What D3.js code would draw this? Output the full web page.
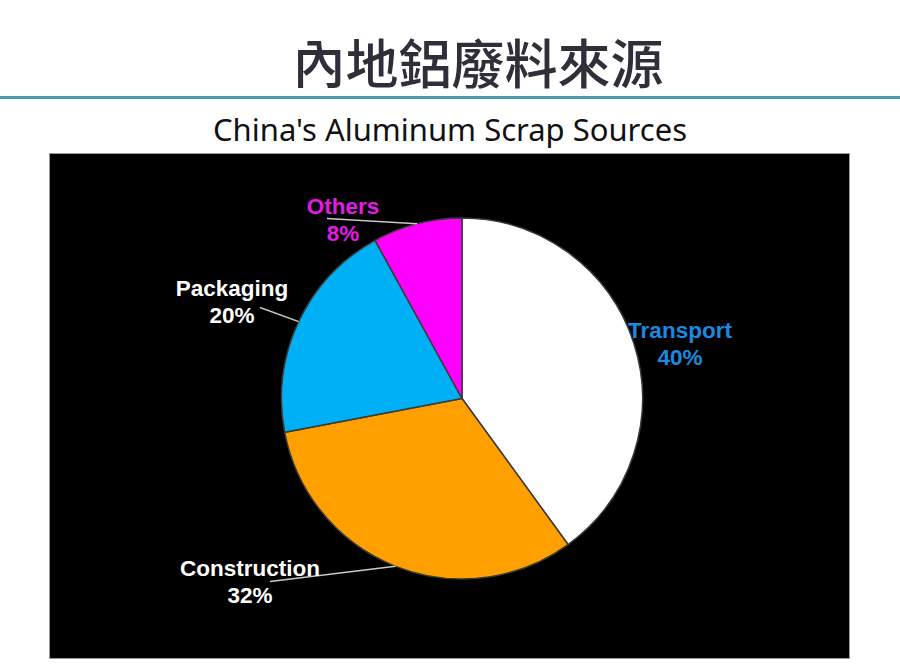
<!DOCTYPE html>
<html>
<head>
<meta charset="utf-8">
<script src="https://cdn.jsdelivr.net/npm/d3@7"></script>
<style>
  body { margin: 0; background: #fff; }
  svg { display: block; }
</style>
</head>
<body>
<svg width="900" height="665"></svg>
<script>
// data
var categories = ["Transport", "Construction", "Packaging", "Others"];
var shares = [40, 32, 20, 8];
var sliceColours = ["#ffffff", "#ff9f00", "#00b0f5", "#ff00ff"];
var labelColours = ["#1a8ae0", "#ffffff", "#ffffff", "#e21ce2"];

// label layout: first baseline relative to pie centre, leader end relative to label
var labelSpots = [[218, -61], [-212, 177], [-230, -103], [-119, -185]];
var leaderEnds = [null, [20, 6], [28, 12], [-16, 5]];

var svg = d3.select("svg"),
    width = +svg.attr("width"),
    height = +svg.attr("height");

// header
svg.append("text")
    .attr("x", 478)
    .attr("y", 84)
    .attr("text-anchor", "middle")
    .attr("font-family", "'Noto Sans CJK TC', 'Noto Sans CJK SC', sans-serif")
    .attr("font-size", 53)
    .attr("font-weight", 500)
    .attr("fill", "#2f2f3a")
    .text("內地鋁廢料來源");

svg.append("rect")
    .attr("x", 0)
    .attr("y", 96)
    .attr("width", width)
    .attr("height", 3)
    .attr("fill", "#4b9bb2");

svg.append("text")
    .attr("x", 450)
    .attr("y", 141)
    .attr("text-anchor", "middle")
    .attr("font-family", "'Noto Sans', sans-serif")
    .attr("font-size", 30)
    .attr("fill", "#111")
    .attr("textLength", 474)
    .attr("lengthAdjust", "spacingAndGlyphs")
    .text("China's Aluminum Scrap Sources");

// black chart panel
svg.append("rect")
    .attr("x", 49.5)
    .attr("y", 153.5)
    .attr("width", 800)
    .attr("height", 505)
    .attr("fill", "#000")
    .attr("stroke", "#999")
    .attr("stroke-width", 1);

var cx = 462, cy = 398.5, radius = 180.5;

var pie = d3.pie().sort(null).value(function (d) { return d; });
var arcs = pie(shares);
var arc = d3.arc().innerRadius(0).outerRadius(radius);

var g = svg.append("g").attr("transform", "translate(" + cx + "," + cy + ")");

g.selectAll("path.slice")
    .data(arcs)
    .enter().append("path")
      .attr("class", "slice")
      .attr("d", arc)
      .attr("fill", function (d, i) { return sliceColours[i]; })
      .attr("stroke", "#3a3a3a")
      .attr("stroke-width", 1.5);

// leader lines from middle of each slice's rim
g.selectAll("line.leader")
    .data(arcs.filter(function (d, i) { return leaderEnds[i]; }))
    .enter().append("line")
      .attr("class", "leader")
      .attr("x1", function (d) { var a = (d.startAngle + d.endAngle) / 2; return Math.sin(a) * radius; })
      .attr("y1", function (d) { var a = (d.startAngle + d.endAngle) / 2; return -Math.cos(a) * radius; })
      .attr("x2", function (d) { return labelSpots[d.index][0] + leaderEnds[d.index][0]; })
      .attr("y2", function (d) { return labelSpots[d.index][1] + leaderEnds[d.index][1]; })
      .attr("stroke", "#c8c8c8")
      .attr("stroke-width", 1.5);

var labels = g.selectAll("text.label")
    .data(arcs)
    .enter().append("text")
      .attr("class", "label")
      .attr("text-anchor", "middle")
      .attr("font-family", "'Liberation Sans', Arial, sans-serif")
      .attr("font-weight", "bold")
      .attr("font-size", 22.5)
      .attr("fill", function (d, i) { return labelColours[i]; })
      .attr("transform", function (d, i) { return "translate(" + labelSpots[i][0] + "," + labelSpots[i][1] + ")"; });

labels.append("tspan")
    .attr("x", 0)
    .attr("y", 0)
    .text(function (d, i) { return categories[i]; });

labels.append("tspan")
    .attr("x", 0)
    .attr("y", 27)
    .text(function (d, i) { return shares[i] + "%"; });
</script>
</body>
</html>
